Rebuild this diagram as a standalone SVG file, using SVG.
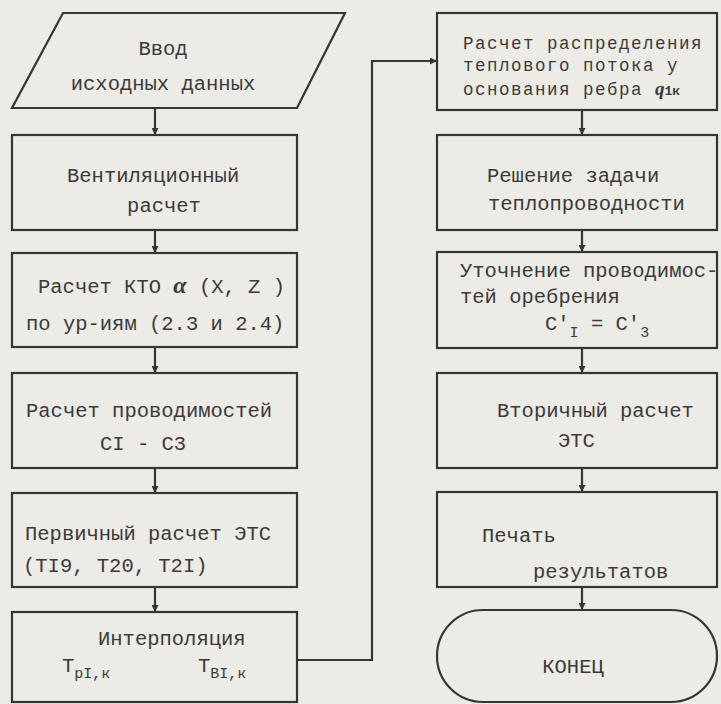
<svg xmlns="http://www.w3.org/2000/svg" width="721" height="704" viewBox="0 0 721 704">
<style>
.bg{fill:#ecebe6}
.shape{fill:none;stroke:#353535;stroke-width:2.2}
.conn{fill:none;stroke:#353535;stroke-width:2.2}
text{font-family:"Liberation Mono","DejaVu Sans Mono",monospace;font-size:20.5px;fill:#3a3a3a}
.sub{font-size:15px}
.tight{font-size:17.5px;letter-spacing:1.5px}
</style>
<defs>
<marker id="ah" viewBox="0 0 10 10" refX="10" refY="5" markerWidth="7" markerHeight="7" orient="auto" markerUnits="userSpaceOnUse">
<path d="M0,0 L10,5 L0,10 z" fill="#353535"/>
</marker>
</defs>
<rect class="bg" x="0" y="0" width="721" height="704"/>

<g id="n1"><polygon class="shape" points="63,13 345,13 297,108 12,108"/>
<text x="163" y="55" text-anchor="middle">Ввод</text>
<text x="163" y="90" text-anchor="middle">исходных  данных</text></g>

<g id="n2"><rect class="shape" x="12" y="135" width="285" height="95"/>
<text x="67" y="182">Вентиляционный</text>
<text x="164" y="212" text-anchor="middle">расчет</text></g>

<g id="n3"><rect class="shape" x="12" y="253" width="285" height="94"/>
<text x="38" y="293">Расчет КТО <tspan font-family="Liberation Serif,serif" font-style="italic" font-weight="bold" font-size="24">α</tspan> (X, Z )</text>
<text x="26" y="330">по ур-иям (2.3 и 2.4)</text></g>

<g id="n4"><rect class="shape" x="12" y="373" width="285" height="95"/>
<text x="26" y="417">Расчет проводимостей</text>
<text x="100" y="450">CI - C3</text></g>

<g id="n5"><rect class="shape" x="12" y="493" width="285" height="94"/>
<text x="25" y="540">Первичный расчет ЭТС</text>
<text x="23" y="572">(TI9, T20, T2I)</text></g>

<g id="n6"><rect class="shape" x="12" y="612" width="285" height="90"/>
<text x="98" y="645">Интерполяция</text>
<text x="62" y="672">T<tspan class="sub" dy="6">pI,к</tspan></text>
<text x="198" y="672">T<tspan class="sub" dy="6">BI,к</tspan></text></g>

<g id="r1"><rect class="shape" x="437" y="13" width="280" height="97"/>
<text class="tight" x="463" y="49">Расчет распределения</text>
<text class="tight" x="463" y="71">теплового потока у</text>
<text class="tight" x="463" y="95">основания ребра <tspan font-family="Liberation Serif,serif" font-style="italic" font-weight="bold" font-size="19" letter-spacing="0">q</tspan><tspan font-size="13" font-weight="bold" letter-spacing="0">1к</tspan></text></g>

<g id="r2"><rect class="shape" x="437" y="135" width="280" height="95"/>
<text x="487" y="182">Решение  задачи</text>
<text x="488" y="210">теплопроводности</text></g>

<g id="r3"><rect class="shape" x="437" y="252" width="280" height="96"/>
<text x="460" y="277">Уточнение проводимос-</text>
<text x="460" y="303">тей оребрения</text>
<text x="545" y="330">C'<tspan class="sub" dy="7">I</tspan><tspan dy="-7"> = C'</tspan><tspan class="sub" dy="7">3</tspan></text></g>

<g id="r4"><rect class="shape" x="437" y="373" width="280" height="95"/>
<text x="497" y="417">Вторичный расчет</text>
<text x="558" y="447">ЭТС</text></g>

<g id="r5"><rect class="shape" x="437" y="492" width="280" height="95"/>
<text x="482" y="542">Печать</text>
<text x="533" y="578">результатов</text></g>

<g id="r6"><rect class="shape" x="437" y="610" width="280" height="92" rx="46" ry="46"/>
<text x="573" y="673" text-anchor="middle">КОНЕЦ</text></g>

<g id="connectors">
<line class="conn" x1="155" y1="108" x2="155" y2="135" marker-end="url(#ah)"/>
<line class="conn" x1="155" y1="230" x2="155" y2="253" marker-end="url(#ah)"/>
<line class="conn" x1="155" y1="347" x2="155" y2="373" marker-end="url(#ah)"/>
<line class="conn" x1="155" y1="468" x2="155" y2="493" marker-end="url(#ah)"/>
<line class="conn" x1="155" y1="587" x2="155" y2="612" marker-end="url(#ah)"/>
<path class="conn" d="M297,660 H372 V61 H437" marker-end="url(#ah)"/>
<line class="conn" x1="582" y1="110" x2="582" y2="135" marker-end="url(#ah)"/>
<line class="conn" x1="582" y1="230" x2="582" y2="252" marker-end="url(#ah)"/>
<line class="conn" x1="582" y1="348" x2="582" y2="373" marker-end="url(#ah)"/>
<line class="conn" x1="582" y1="468" x2="582" y2="492" marker-end="url(#ah)"/>
<line class="conn" x1="582" y1="587" x2="582" y2="610" marker-end="url(#ah)"/>
</g>
</svg>
